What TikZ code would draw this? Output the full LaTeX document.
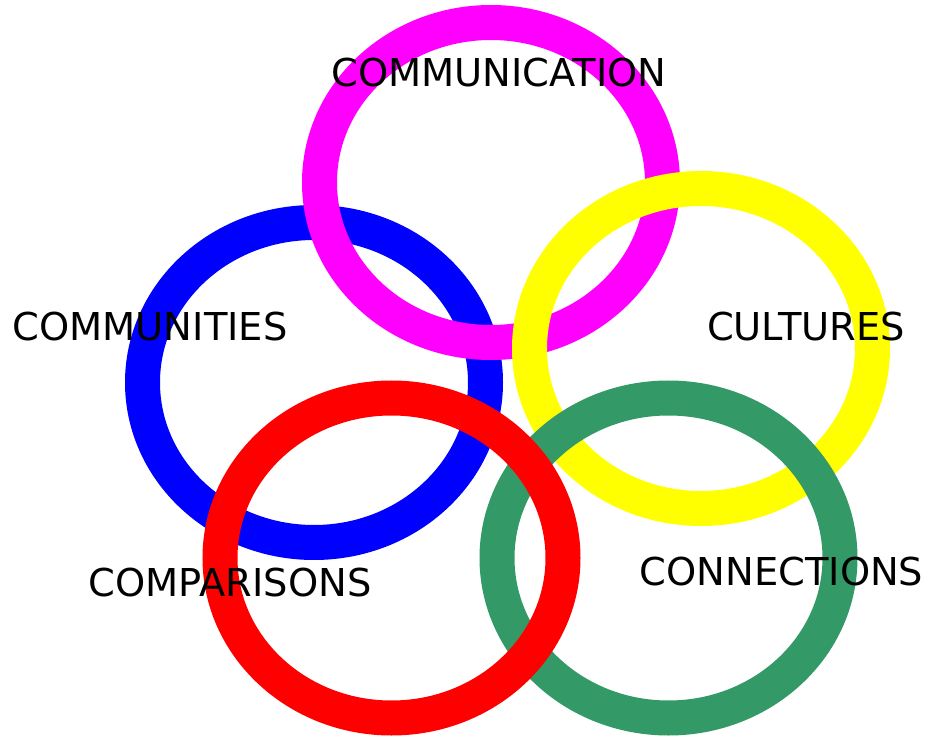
\documentclass[tikz,border=0pt]{standalone}
\usepackage{fontspec}
\setmainfont{DejaVu Sans}
\begin{document}
\begin{tikzpicture}[x=0.75pt,y=0.75pt,yscale=-1,xscale=1,
  ring/.style={line width=26.25pt},
  ringlabel/.style={anchor=base,inner sep=0.75pt,font=\fontsize{28.8}{34}\selectfont}]
\useasboundingbox (0,0) rectangle (926,738); %set diagram size 926 x 738

%Ring: Communities
\draw [ring, color={rgb, 255:red, 0; green, 0; blue, 255 }] (142.5,382.5) .. controls (142.5,294.13) and (219.28,222.5) .. (314,222.5) .. controls (408.72,222.5) and (485.5,294.13) .. (485.5,382.5) .. controls (485.5,470.87) and (408.72,542.5) .. (314,542.5) .. controls (219.28,542.5) and (142.5,470.87) .. (142.5,382.5) -- cycle ;
%Ring: Communication
\draw [ring, color={rgb, 255:red, 255; green, 0; blue, 255 }] (319.5,182.5) .. controls (319.5,94.13) and (396.28,22.5) .. (491,22.5) .. controls (585.72,22.5) and (662.5,94.13) .. (662.5,182.5) .. controls (662.5,270.87) and (585.72,342.5) .. (491,342.5) .. controls (396.28,342.5) and (319.5,270.87) .. (319.5,182.5) -- cycle ;
%Ring: Cultures
\draw [ring, color={rgb, 255:red, 255; green, 255; blue, 0 }] (529.5,348.5) .. controls (529.5,260.13) and (606.28,188.5) .. (701,188.5) .. controls (795.72,188.5) and (872.5,260.13) .. (872.5,348.5) .. controls (872.5,436.87) and (795.72,508.5) .. (701,508.5) .. controls (606.28,508.5) and (529.5,436.87) .. (529.5,348.5) -- cycle ;
%Ring: Connections
\draw [ring, color={rgb, 255:red, 51; green, 153; blue, 102 }] (497,558) .. controls (497,469.63) and (573.78,398) .. (668.5,398) .. controls (763.22,398) and (840,469.63) .. (840,558) .. controls (840,646.37) and (763.22,718) .. (668.5,718) .. controls (573.78,718) and (497,646.37) .. (497,558) -- cycle ;
%Ring: Comparisons
\draw [ring, color={rgb, 255:red, 255; green, 0; blue, 0 }] (220,558) .. controls (220,469.63) and (296.78,398) .. (391.5,398) .. controls (486.22,398) and (563,469.63) .. (563,558) .. controls (563,646.37) and (486.22,718) .. (391.5,718) .. controls (296.78,718) and (220,646.37) .. (220,558) -- cycle ;

% Text Node
\draw (499,87) node (communication) [ringlabel] {COMMUNICATION};
% Text Node
\draw (150,341) node (communities) [ringlabel] {COMMUNITIES};
% Text Node
\draw (806,341) node (cultures) [ringlabel] {CULTURES};
% Text Node
\draw (230,596) node (comparisons) [ringlabel] {COMPARISONS};
% Text Node
\draw (781.5,585) node (connections) [ringlabel] {CONNECTIONS};
\end{tikzpicture}
\end{document}
